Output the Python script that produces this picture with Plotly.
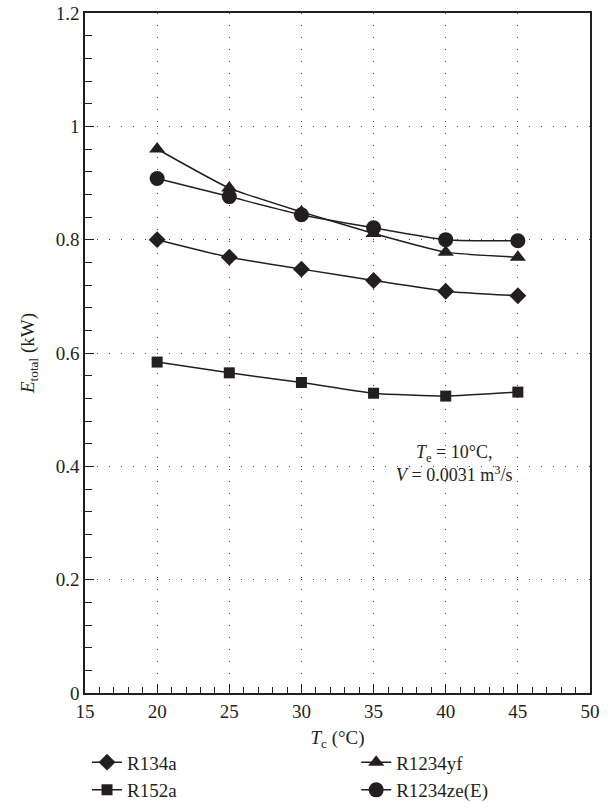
import plotly.graph_objects as go

tc = [20, 25, 30, 35, 40, 45]
r134a = [0.800, 0.769, 0.748, 0.728, 0.709, 0.701]
r1234yf = [0.960, 0.891, 0.849, 0.811, 0.778, 0.769]
r152a = [0.584, 0.565, 0.548, 0.529, 0.524, 0.531]
r1234ze = [0.908, 0.876, 0.844, 0.821, 0.800, 0.798]

names = ["R134a", "R1234yf", "R152a", "R1234ze(E)"]
series = [r134a, r1234yf, r152a, r1234ze]
symbols = ["diamond", "triangle-up", "square", "circle"]
sizes = [13, 14, 11, 15]
legend_ids = ["legend", "legend2", "legend", "legend2"]

ink = "#231f20"
font = "Liberation Serif"

fig = go.Figure()
for n, s, sym, sz, lg in zip(names, series, symbols, sizes, legend_ids):
    fig.add_trace(go.Scatter(
        x=tc, y=s, name=n, mode="lines+markers", legend=lg,
        line=dict(color=ink, width=1.5, shape="spline", smoothing=0.5),
        marker=dict(symbol=sym, size=sz, color=ink),
    ))

leg_common = dict(orientation="v", yanchor="top", y=-0.074, xanchor="left",
                  tracegroupgap=0, itemwidth=30, bgcolor="rgba(0,0,0,0)",
                  font=dict(family=font, size=19, color=ink))

fig.update_layout(
    width=612, height=812,
    margin=dict(l=85, r=22, t=13, b=119, autoexpand=False),
    paper_bgcolor="white", plot_bgcolor="white",
    font=dict(family=font, size=18, color=ink),
    showlegend=True,
    legend=dict(x=0.004, **leg_common),
    legend2=dict(x=0.537, **leg_common),
    annotations=[dict(
        x=40.6, y=0.405, xref="x", yref="y", showarrow=False,
        text="<i>T</i><sub>e</sub> = 10°C,<br><i>V</i> = 0.0031 m<sup>3</sup>/s",
        align="center", font=dict(family=font, size=18, color=ink),
    )],
)

grid_dash = "1px,11px"
fig.update_xaxes(
    range=[15, 50], dtick=5, tick0=15,
    showline=True, linecolor=ink, linewidth=1.5, mirror=True,
    ticks="inside", ticklen=9, tickcolor=ink, tickwidth=1.2,
    minor=dict(dtick=1, ticks="inside", ticklen=6, tickcolor=ink, showgrid=False),
    showgrid=True, gridcolor="#444444", griddash=grid_dash, gridwidth=1,
    zeroline=False,
    title=dict(text="<i>T</i><sub>c</sub> (°C)", standoff=10, font=dict(family=font, size=19)),
    tickfont=dict(family=font, size=19),
)
fig.update_yaxes(
    range=[0, 1.2], dtick=0.2,
    showline=True, linecolor=ink, linewidth=1.5, mirror=True,
    ticks="inside", ticklen=9, tickcolor=ink, tickwidth=1.2,
    minor=dict(dtick=0.04, ticks="inside", ticklen=7, tickcolor=ink, showgrid=False),
    showgrid=True, gridcolor="#444444", griddash=grid_dash, gridwidth=1,
    zeroline=False,
    title=dict(text="<i>E</i><sub>total</sub> (kW)", standoff=16, font=dict(family=font, size=19)),
    tickfont=dict(family=font, size=19),
)

fig.write_html("out.html")
